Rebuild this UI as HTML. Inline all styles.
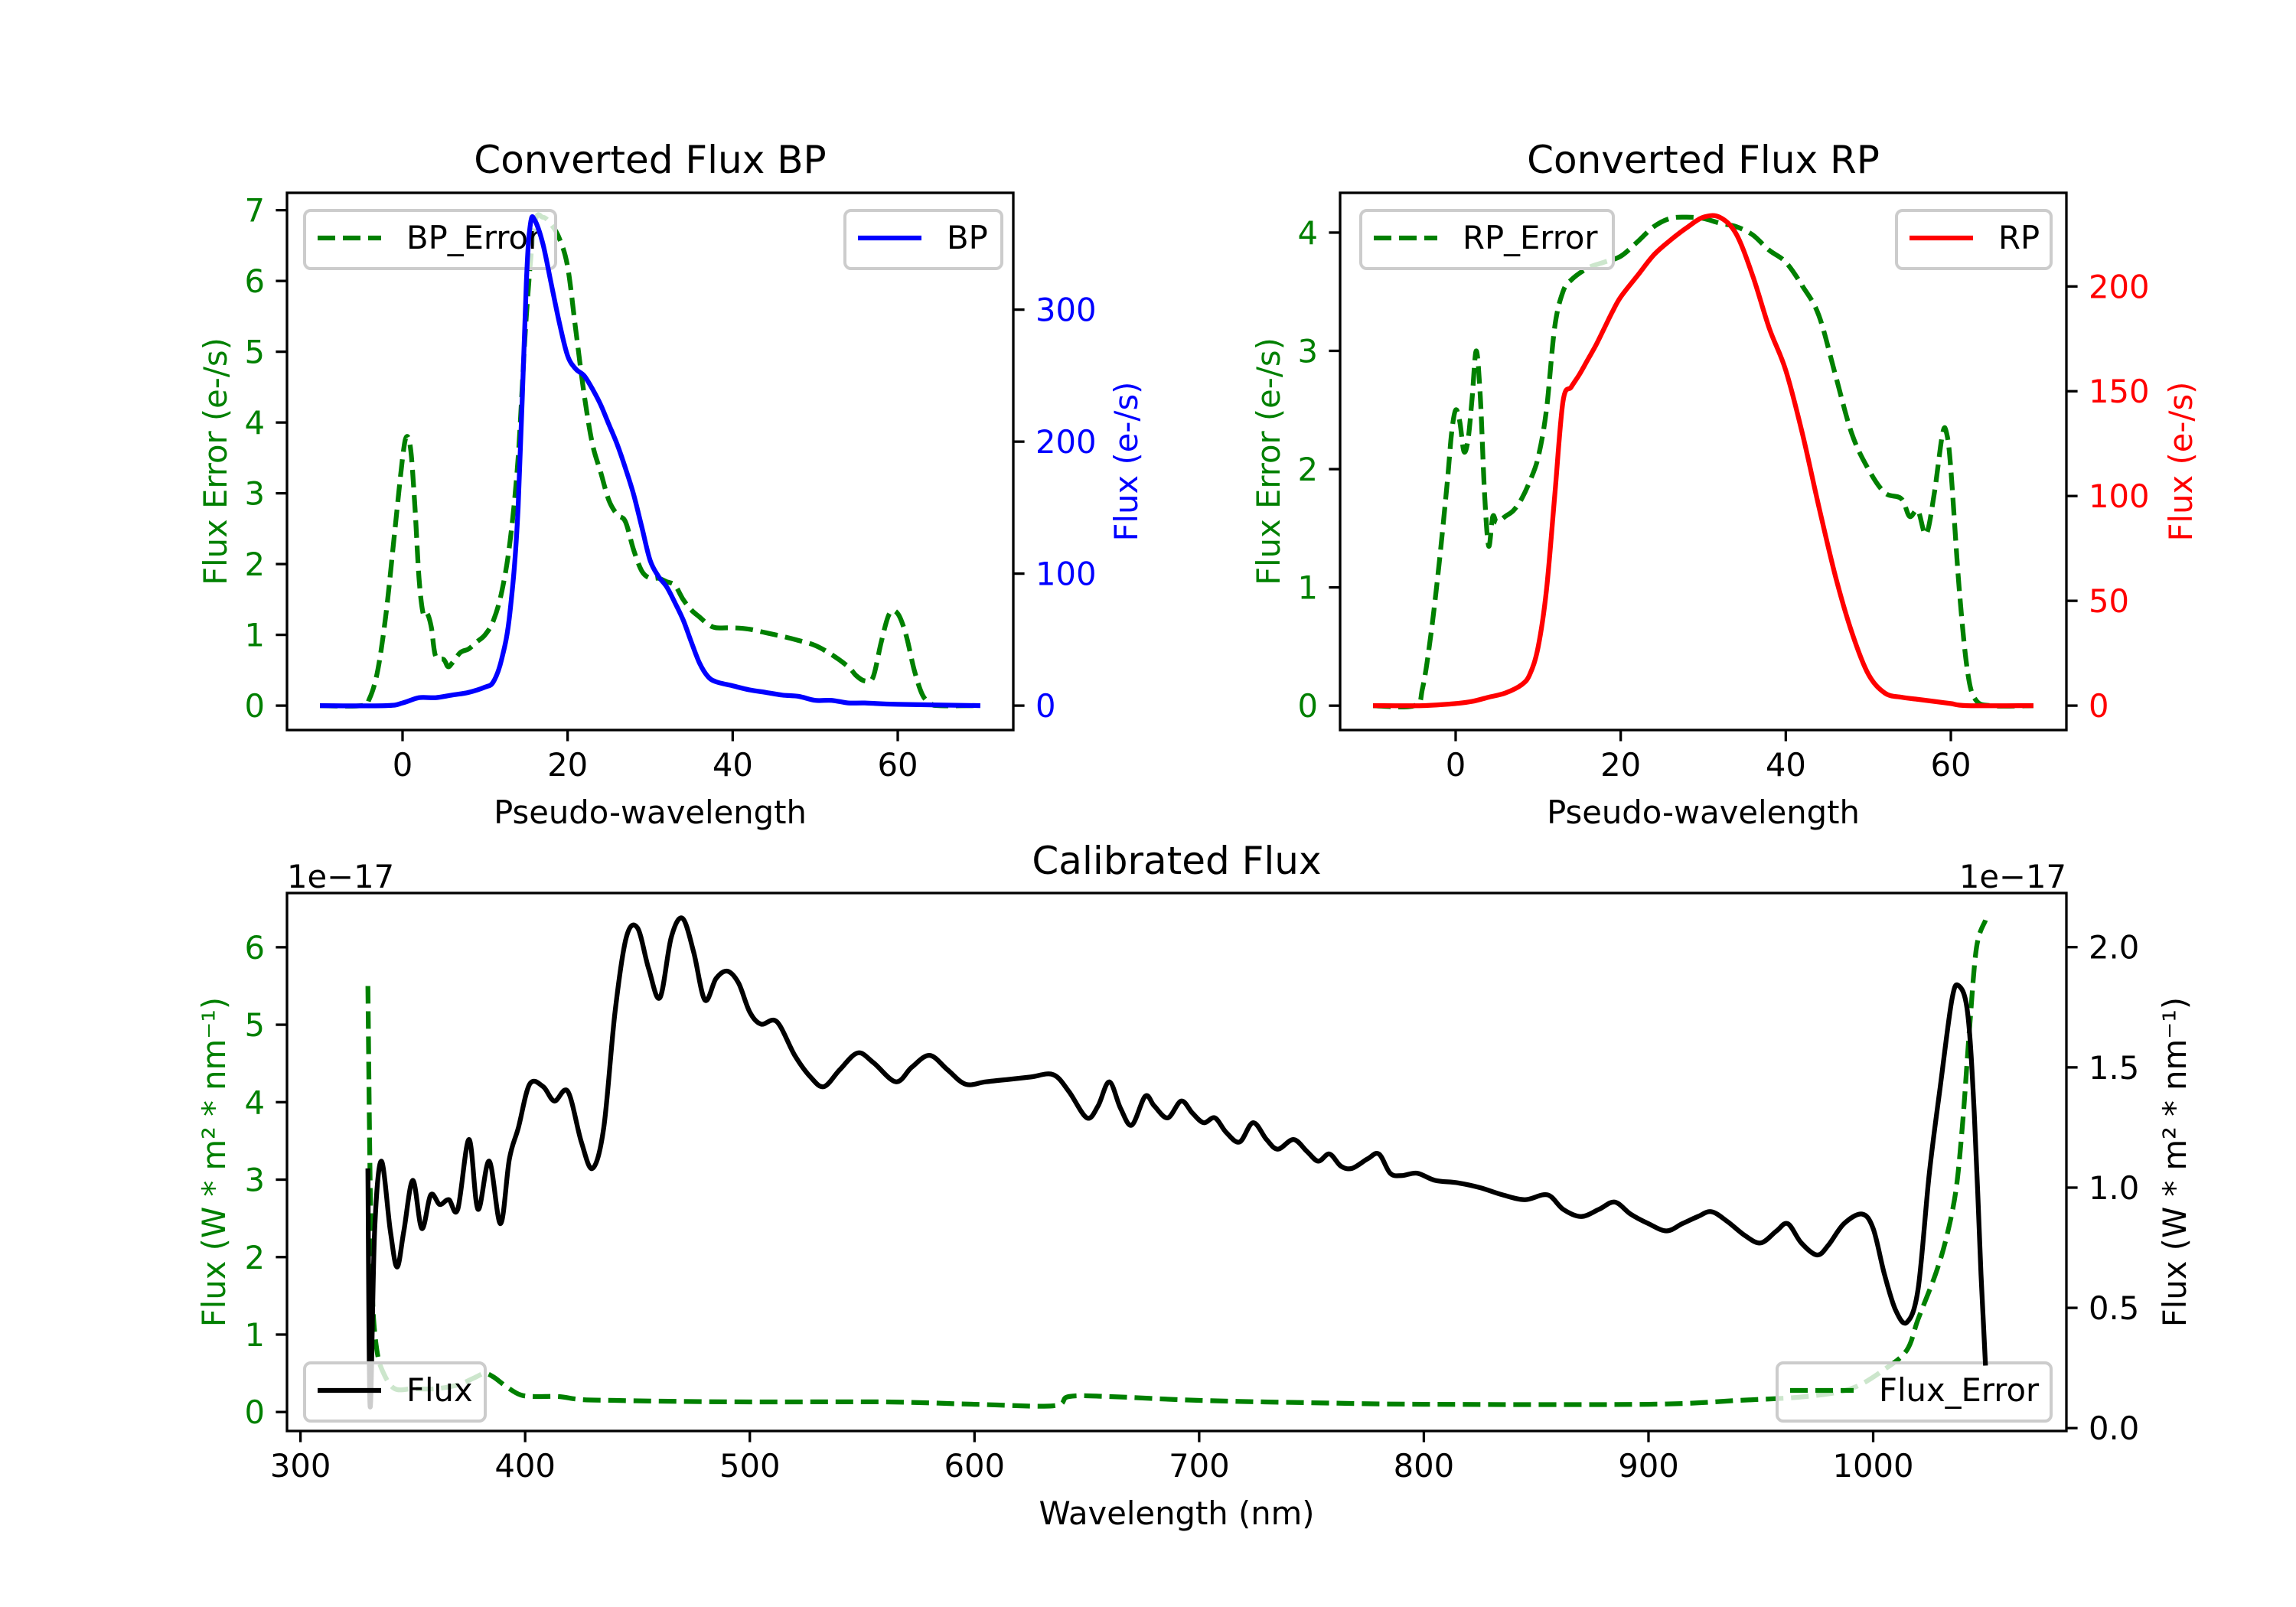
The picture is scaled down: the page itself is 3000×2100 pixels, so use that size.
<!DOCTYPE html>
<html><head><meta charset="utf-8"><style>
html,body{margin:0;padding:0;background:#fff}
svg{display:block;font-family:"DejaVu Sans","Liberation Sans",sans-serif}
</style></head><body>
<svg id="fig" width="3000" height="2100" viewBox="0 0 3000 2100" xmlns="http://www.w3.org/2000/svg"></svg>
<script>
// ---------- DATA ----------
const bpX = [-10,-5,-4,-3,-2,-1,0,0.5,1,1.5,2,2.5,3,3.5,4,5,5.5,6,7,8,9,10,11,12,13,14,15,16,17,18,19,20,21,22,23,24,25,26,27,28,29,30,31,32,33,34,35,36,37,38,40,42,44,46,48,50,52,54,55,56,57,58,59,60,61,62,63,64,65,70];
const bpErr = [0,0,0.1,0.5,1.3,2.4,3.5,3.8,3.6,2.8,1.8,1.3,1.3,1.1,0.7,0.65,0.55,0.6,0.75,0.8,0.9,1.0,1.2,1.6,2.3,3.5,5.5,6.8,6.9,6.8,6.6,6.2,5.3,4.4,3.7,3.3,2.9,2.7,2.6,2.2,1.9,1.8,1.8,1.75,1.7,1.5,1.35,1.25,1.15,1.1,1.1,1.08,1.03,0.98,0.92,0.85,0.72,0.55,0.42,0.35,0.4,0.9,1.3,1.3,1.0,0.5,0.15,0.03,0,0];
const bpFluxX = [-10,-2,0,2,4,6,8,10,11,12,13,14,15,15.5,16,17,18,19,20,21,22,23,24,25,26,27,28,29,30,31,32,33,34,35,36,37,38,40,42,44,46,48,50,52,54,56,60,70];
const bpFlux = [0,0,2,6,6,8,10,14,18,35,70,150,320,365,368,350,320,290,265,255,250,240,228,213,198,180,160,135,110,98,90,78,65,48,32,22,18,15,12,10,8,7,4,4,2,2,1,0];
const rpX = [-10,-5,-4,-3,-2,-1,-0.5,0,0.5,1,1.5,2,2.5,3,3.5,4,4.5,5,6,7,8,9,10,11,12,13,14,16,18,20,22,24,26,28,30,32,34,36,38,40,42,44,46,48,50,52,54,55,56,57,58,59,59.5,60,61,62,63,65,70];
const rpErr = [0,0,0.15,0.6,1.2,1.9,2.3,2.5,2.4,2.15,2.25,2.6,3.0,2.6,1.8,1.35,1.6,1.55,1.6,1.65,1.75,1.9,2.1,2.5,3.2,3.5,3.6,3.7,3.75,3.8,3.92,4.05,4.12,4.13,4.12,4.08,4.05,3.98,3.85,3.75,3.55,3.3,2.8,2.3,2.0,1.8,1.75,1.6,1.65,1.45,1.8,2.3,2.3,2.0,1.0,0.3,0.05,0,0];
const rpFluxX = [-10,-4,0,2,4,6,8,9,10,11,12,13,14,15,16,17,18,19,20,22,24,26,28,30,32,34,36,38,40,42,44,46,48,50,52,54,56,58,60,62,70];
const rpFlux = [0,0,1,2,4,6,10,15,28,55,100,145,152,158,165,172,180,188,195,205,215,222,228,233,233,225,205,180,160,130,95,62,35,15,6,4,3,2,1,0,0];
const calWl = [330,331,333,336,340,343,346,350,354,358,362,366,370,375,379,384,389,393,397,402,408,413,419,425,430,435,440,445,450,455,460,465,470,475,480,485,490,495,500,505,512,520,527,533,540,548,555,565,572,580,588,596,605,615,625,635,642,650,655,660,665,670,676,680,686,692,697,702,707,712,718,724,730,735,742,748,753,758,763,768,775,780,785,790,797,805,815,825,835,845,855,862,870,878,885,892,900,908,915,922,928,935,943,950,957,962,968,975,980,987,995,1000,1005,1010,1015,1020,1025,1030,1035,1038,1042,1045,1048,1050];
const calFlux = [1.08,0.09,0.82,1.11,0.82,0.67,0.82,1.03,0.83,0.97,0.93,0.95,0.91,1.20,0.91,1.11,0.85,1.12,1.25,1.43,1.42,1.36,1.40,1.19,1.08,1.25,1.73,2.04,2.08,1.91,1.79,2.04,2.12,1.98,1.78,1.87,1.90,1.85,1.73,1.68,1.69,1.55,1.46,1.42,1.49,1.56,1.52,1.44,1.50,1.55,1.49,1.43,1.44,1.45,1.46,1.47,1.40,1.29,1.34,1.44,1.33,1.26,1.38,1.34,1.29,1.36,1.31,1.27,1.29,1.23,1.19,1.27,1.20,1.16,1.20,1.15,1.11,1.14,1.09,1.08,1.12,1.14,1.06,1.05,1.06,1.03,1.02,1.00,0.97,0.95,0.97,0.91,0.88,0.91,0.94,0.89,0.85,0.82,0.85,0.88,0.90,0.86,0.80,0.77,0.82,0.85,0.77,0.72,0.76,0.85,0.89,0.83,0.64,0.49,0.44,0.58,1.06,1.43,1.78,1.84,1.73,1.31,0.64,0.26];
const errWl = [330,331,332,334,337,342,350,360,370,378,382,386,392,398,405,415,425,440,460,500,560,600,635,642,660,700,750,800,900,940,970,990,1005,1015,1020,1028,1033,1037,1040,1043,1046,1050];
const calErr = [5.5,3,1.5,0.8,0.5,0.3,0.3,0.3,0.35,0.45,0.5,0.45,0.32,0.22,0.2,0.2,0.16,0.15,0.14,0.13,0.13,0.1,0.08,0.2,0.2,0.15,0.12,0.1,0.1,0.15,0.2,0.3,0.55,0.8,1.2,1.8,2.3,2.9,3.8,5.0,6.0,6.35];
const pwTicks = [0,20,40,60];
const bpErrTicks = [0,1,2,3,4,5,6,7];
const bpFluxTicks = [0,100,200,300];
const rpErrTicks = [0,1,2,3,4];
const rpFluxTicks = [0,50,100,150,200];
const wlTicks = [300,400,500,600,700,800,900,1000];
const calErrTicks = [0,1,2,3,4,5,6];
const calFluxTicks = ["0.0","0.5","1.0","1.5","2.0"];

// ---------- HELPERS ----------
const NS = "http://www.w3.org/2000/svg";
const svg = document.getElementById('fig');
const FS = 41.7, LW = 6.25, TL = 14.6;
function el(tag, attrs, parent) {
  const e = document.createElementNS(NS, tag);
  for (const k in attrs) e.setAttribute(k, attrs[k]);
  (parent || svg).appendChild(e);
  return e;
}
function scale(d0, d1, p0, p1) { return v => p0 + (v - d0) / (d1 - d0) * (p1 - p0); }
function text(str, x, y, opts, name) {
  const t = el('text', Object.assign({x: x, y: y, 'font-size': FS, fill: '#000'}, opts || {}));
  t.textContent = str;
  
  
  return t;
}
function smoothPath(P) {
  let d = 'M' + P[0][0].toFixed(1) + ',' + P[0][1].toFixed(1);
  const k = 1 / 6;
  for (let i = 0; i < P.length - 1; i++) {
    const p0 = P[i - 1] || P[i], p1 = P[i], p2 = P[i + 1], p3 = P[i + 2] || P[i + 1];
    const c1x = p1[0] + (p2[0] - p0[0]) * k, c1y = p1[1] + (p2[1] - p0[1]) * k;
    const c2x = p2[0] - (p3[0] - p1[0]) * k, c2y = p2[1] - (p3[1] - p1[1]) * k;
    d += 'C' + c1x.toFixed(1) + ',' + c1y.toFixed(1) + ' ' + c2x.toFixed(1) + ',' + c2y.toFixed(1) + ' ' + p2[0].toFixed(1) + ',' + p2[1].toFixed(1);
  }
  return d;
}
function line(xs, ys, sx, sy, color, dashed, name) {
  const P = xs.map((x, i) => [sx(x), sy(ys[i])]);
  const p = el('path', {d: smoothPath(P), fill: 'none', stroke: color, 'stroke-width': LW, 'stroke-linejoin': 'round'});
  if (dashed) p.setAttribute('stroke-dasharray', '23,10');
  
  
  return p;
}
function legend(x, y, w, label, color, dashed, name) {
  const g = el('g', {});
  
  
  el('rect', {x: x, y: y, width: w, height: 76, rx: 8, fill: 'rgba(255,255,255,0.8)', stroke: '#cccccc', 'stroke-width': 4}, g);
  const l = el('line', {x1: x + 17, x2: x + 100, y1: y + 36, y2: y + 36, stroke: color, 'stroke-width': LW}, g);
  if (dashed) l.setAttribute('stroke-dasharray', '23,10');
  const t = el('text', {x: x + 133, y: y + 50, 'font-size': FS, fill: '#000'}, g);
  t.textContent = label;
  return g;
}
function frame(L, T, R, B, name) {
  const r = el('rect', {x: L, y: T, width: R - L, height: B - T, fill: 'none', stroke: '#000', 'stroke-width': 3.3});
  
  
}
function xTicks(vals, sx, B, name) {
  vals.forEach(v => {
    const x = sx(v);
    el('line', {x1: x, x2: x, y1: B, y2: B + TL, stroke: '#000', 'stroke-width': 3.3});
    text(String(v), x, B + 60, {'text-anchor': 'middle'}, name);
  });
}
function yTicks(vals, sy, X, side, color, name) {
  vals.forEach(v => {
    const y = sy(parseFloat(v));
    const dx = side === 'left' ? -TL : TL;
    el('line', {x1: X, x2: X + dx, y1: y, y2: y, stroke: '#000', 'stroke-width': 3.3});
    text(String(v), side === 'left' ? X - 29 : X + 29, y + 15, {'text-anchor': side === 'left' ? 'end' : 'start', fill: color}, name);
  });
}
function vlabel(str, x, y, color, name) {
  return text(str, x, y, {'text-anchor': 'middle', fill: color, transform: 'rotate(-90 ' + x + ' ' + y + ')'}, name);
}

// ---------- BP PANEL ----------
(function(){
  const L = 375, R = 1324, T = 252, B = 954;
  const sx = scale(-14, 74, L, R);
  const sy1 = scale(-0.345, 7.245, B, T);
  const sy2 = scale(-18.5, 388.5, B, T);
  text('Converted Flux BP', (L + R) / 2, 226, {'text-anchor': 'middle', 'font-size': 50}, 'bp-title');
  line(bpX, bpErr, sx, sy1, '#008000', true, 'bp-error-line');
  legend(398, 275, 328, 'BP_Error', '#008000', true, 'bp-error-legend');
  line(bpFluxX, bpFlux, sx, sy2, '#0000ff', false, 'bp-flux-line');
  legend(1104, 275, 205, 'BP', '#0000ff', false, 'bp-legend');
  frame(L, T, R, B, 'bp-axes');
  xTicks(pwTicks, sx, B, 'bp-x-tick');
  yTicks(bpErrTicks, sy1, L, 'left', '#008000', 'bp-left-tick');
  yTicks(bpFluxTicks, sy2, R, 'right', '#0000ff', 'bp-right-tick');
  text('Pseudo-wavelength', (L + R) / 2, 1076, {'text-anchor': 'middle'}, 'bp-x-axis-title');
  vlabel('Flux Error (e-/s)', 296, (T + B) / 2, '#008000', 'bp-left-axis-title');
  vlabel('Flux (e-/s)', 1486, (T + B) / 2, '#0000ff', 'bp-right-axis-title');
})();

// ---------- RP PANEL ----------
(function(){
  const L = 1751, R = 2700, T = 252, B = 954;
  const sx = scale(-14, 74, L, R);
  const sy1 = scale(-0.206, 4.336, B, T);
  const sy2 = scale(-11.65, 244.65, B, T);
  text('Converted Flux RP', (L + R) / 2, 226, {'text-anchor': 'middle', 'font-size': 50}, 'rp-title');
  line(rpX, rpErr, sx, sy1, '#008000', true, 'rp-error-line');
  legend(1778, 275, 330, 'RP_Error', '#008000', true, 'rp-error-legend');
  line(rpFluxX, rpFlux, sx, sy2, '#ff0000', false, 'rp-flux-line');
  legend(2478, 275, 202, 'RP', '#ff0000', false, 'rp-legend');
  frame(L, T, R, B, 'rp-axes');
  xTicks(pwTicks, sx, B, 'rp-x-tick');
  yTicks(rpErrTicks, sy1, L, 'left', '#008000', 'rp-left-tick');
  yTicks(rpFluxTicks, sy2, R, 'right', '#ff0000', 'rp-right-tick');
  text('Pseudo-wavelength', (L + R) / 2, 1076, {'text-anchor': 'middle'}, 'rp-x-axis-title');
  vlabel('Flux Error (e-/s)', 1672, (T + B) / 2, '#008000', 'rp-left-axis-title');
  vlabel('Flux (e-/s)', 2864, (T + B) / 2, '#ff0000', 'rp-right-axis-title');
})();

// ---------- CALIBRATED PANEL ----------
(function(){
  const L = 375, R = 2700, T = 1167, B = 1870;
  const sx = scale(294, 1086, L, R);
  const sy1 = scale(-0.245, 6.7, B, T);
  const sy2 = scale(-0.012, 2.225, B, T);
  text('Calibrated Flux', (L + R) / 2, 1142, {'text-anchor': 'middle', 'font-size': 50}, 'cal-title');
  text('1e\u221217', L, 1160, {}, 'cal-left-offset-text');
  text('1e\u221217', R, 1160, {'text-anchor': 'end'}, 'cal-right-offset-text');
  line(errWl, calErr, sx, sy1, '#008000', true, 'cal-error-line');
  legend(2322, 1781, 358, 'Flux_Error', '#008000', true, 'cal-error-legend');
  line(calWl, calFlux, sx, sy2, '#000000', false, 'cal-flux-line');
  legend(398, 1781, 236, 'Flux', '#000000', false, 'cal-flux-legend');
  frame(L, T, R, B, 'cal-axes');
  xTicks(wlTicks, sx, B, 'cal-x-tick');
  yTicks(calErrTicks, sy1, L, 'left', '#008000', 'cal-left-tick');
  yTicks(calFluxTicks, sy2, R, 'right', '#000000', 'cal-right-tick');
  text('Wavelength (nm)', (L + R) / 2, 1992, {'text-anchor': 'middle'}, 'cal-x-axis-title');
  vlabel('Flux (W * m\u00b2 * nm\u207b\u00b9)', 294, (T + B) / 2, '#008000', 'cal-left-axis-title');
  vlabel('Flux (W * m\u00b2 * nm\u207b\u00b9)', 2856, (T + B) / 2, '#000000', 'cal-right-axis-title');
})();
</script>
</body></html>
